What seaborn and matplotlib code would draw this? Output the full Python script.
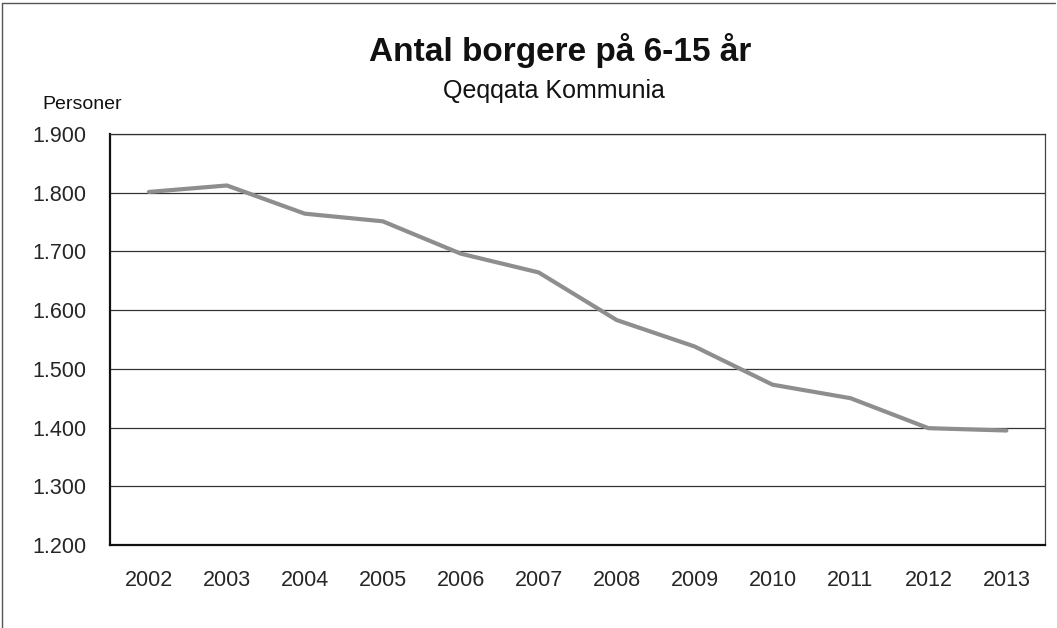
import matplotlib
matplotlib.use('Agg')
import matplotlib.pyplot as plt
import matplotlib.ticker as mticker
import numpy as np
import pandas as pd
import seaborn as sns

years = ['2002', '2003', '2004', '2005', '2006', '2007',
         '2008', '2009', '2010', '2011', '2012', '2013']
persons = [1801, 1812, 1764, 1751, 1696, 1664, 1583, 1538, 1473, 1450, 1399, 1395]
y_ticks = [1200, 1300, 1400, 1500, 1600, 1700, 1800, 1900]

sns.set_style('white')
plt.rcParams['font.family'] = ['Liberation Sans', 'DejaVu Sans']

data = pd.DataFrame({'year': years, 'persons': persons})

fig = plt.figure(figsize=(10.57, 6.28), dpi=100)
ax = fig.add_axes([0.104, 0.132, 0.885, 0.655])

sns.lineplot(data, x='year', y='persons', color='#8e8e8e', linewidth=3.0, ax=ax)

ax.set_xlim(-0.5, len(years) - 0.5)
ax.set_ylim(y_ticks[0], y_ticks[-1])
ax.set_yticks(y_ticks)
ax.yaxis.set_major_formatter(mticker.FuncFormatter(lambda v, p: f'{int(v):,}'.replace(',', '.')))
ax.set_xticks(range(len(years)))
ax.set_xticklabels(years)
ax.set_xticks(np.arange(-0.5, len(years), 1.0), minor=True)
ax.tick_params(axis='x', which='major', length=0, pad=18, labelsize=15.5)
ax.tick_params(axis='x', which='minor', length=5, width=1, color='#222222', direction='out')
ax.tick_params(axis='y', which='major', length=5, width=1, color='#222222', direction='out',
               labelsize=15.5, pad=12)
ax.yaxis.grid(True, color='#333333', linewidth=0.9)
ax.set_axisbelow(True)
ax.set_xlabel('')
ax.set_ylabel('')

for side in ['left', 'bottom']:
    ax.spines[side].set_color('#111111')
    ax.spines[side].set_linewidth(1.6)
ax.spines['right'].set_color('#444444')
ax.spines['right'].set_linewidth(0.9)
ax.spines['top'].set_color('#333333')
ax.spines['top'].set_linewidth(0.9)

fig.text(0.53, 0.92, 'Antal borgere på 6-15 år', ha='center', va='center',
         fontsize=24, fontweight='bold', color='#111111')
fig.text(0.524, 0.855, 'Qeqqata Kommunia', ha='center', va='center',
         fontsize=18, color='#111111')
fig.text(0.04, 0.834, 'Personer', ha='left', va='center', fontsize=14, color='#111111')

# chart frame (top and left edges visible in the scan)
fig.add_artist(plt.Line2D([0.002, 0.998], [0.996, 0.996], color='#555555', linewidth=1, transform=fig.transFigure))
fig.add_artist(plt.Line2D([0.002, 0.002], [0.0, 0.996], color='#555555', linewidth=1, transform=fig.transFigure))

fig.savefig('out.png', dpi=100)
